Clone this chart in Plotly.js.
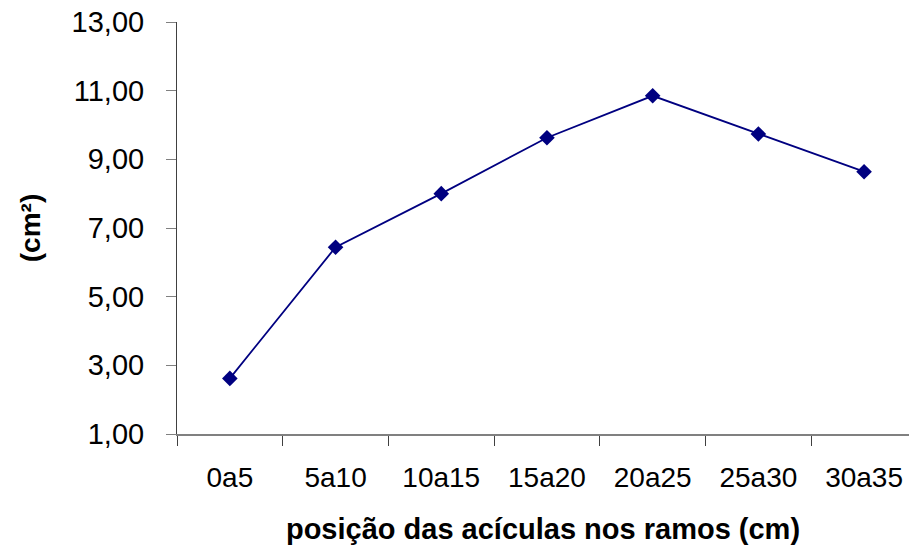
<!DOCTYPE html>
<html>
<head>
<meta charset="utf-8">
<script src="https://cdn.plot.ly/plotly-3.0.1.min.js"></script>
<style>
  html, body { margin: 0; padding: 0; background: #fff; }
  #chart { width: 909px; height: 554px; }
</style>
</head>
<body>
<div id="chart"></div>
<script>
// Leaf area by needle position along the branch
const positions = ['0a5', '5a10', '10a15', '15a20', '20a25', '25a30', '30a35'];
const areaCm2 = [2.62, 6.44, 8.00, 9.63, 10.85, 9.74, 8.64];
const yTicks = [1, 3, 5, 7, 9, 11, 13];

const font = 'Liberation Sans, Arial, sans-serif';

const trace = {
  x: positions,
  y: areaCm2,
  type: 'scatter',
  mode: 'lines+markers',
  line: { color: '#000080', width: 1.8 },
  marker: { symbol: 'diamond', size: 12, color: '#000080' },
  cliponaxis: false,
  hoverinfo: 'x+y'
};

const layout = {
  width: 909,
  height: 554,
  margin: { l: 177, r: 0, t: 22, b: 120 },
  paper_bgcolor: '#ffffff',
  plot_bgcolor: '#ffffff',
  separators: ',.',
  showlegend: false,
  font: { family: font, color: '#000' },
  xaxis: {
    type: 'category',
    range: [-0.5, 6.425],
    showgrid: false,
    zeroline: false,
    showline: true,
    linecolor: '#808080',
    linewidth: 1.5,
    ticks: 'outside',
    tickson: 'boundaries',
    ticklen: 10,
    tickcolor: '#404040',
    tickwidth: 1,
    ticklabelstandoff: 18,
    tickfont: { family: font, size: 28, color: '#000' },
    title: {
      text: '<b>posição das acículas nos ramos (cm)</b>',
      font: { family: font, size: 29, color: '#000' },
      standoff: 26
    }
  },
  yaxis: {
    range: [1, 13],
    tickvals: yTicks,
    tickformat: '.2f',
    showgrid: false,
    zeroline: false,
    showline: true,
    linecolor: '#404040',
    linewidth: 1,
    ticks: 'outside',
    ticklen: 10,
    tickcolor: '#808080',
    tickwidth: 1,
    ticklabelstandoff: 16,
    tickfont: { family: font, size: 29, color: '#000' },
    title: {
      text: '<b>(cm²)</b>',
      font: { family: font, size: 28, color: '#000' },
      standoff: 22
    }
  }
};

Plotly.newPlot('chart', [trace], layout, { displayModeBar: false, staticPlot: true });
</script>
</body>
</html>
